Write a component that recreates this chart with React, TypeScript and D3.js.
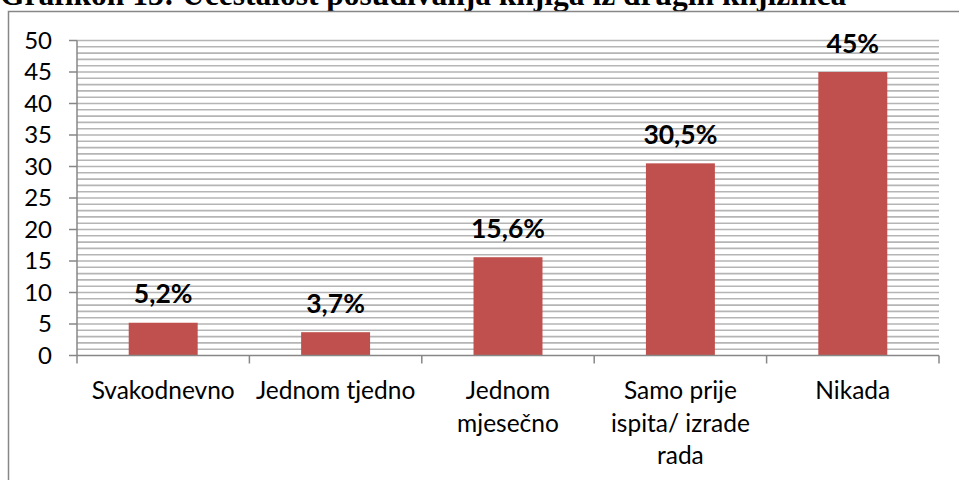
import React from "react";
import * as d3 from "d3";

const title = "Grafikon 13: Učestalost posuđivanja knjiga iz drugih knjižnica";
const categories = ["Svakodnevno", "Jednom tjedno", "Jednom mjesečno", "Samo prije ispita/ izrade rada", "Nikada"];
const categoryLines = [["Svakodnevno"], ["Jednom tjedno"], ["Jednom", "mjesečno"], ["Samo prije", "ispita/ izrade", "rada"], ["Nikada"]];
const values = [5.2, 3.7, 15.6, 30.5, 45];
const valueLabels = ["5,2%", "3,7%", "15,6%", "30,5%", "45%"];
const yTicks = [0, 5, 10, 15, 20, 25, 30, 35, 40, 45, 50];

const W = 959;
const H = 480;
const plot = { left: 77, right: 939, top: 40.5, bottom: 355.5 };
const FONT = "Lato, 'Liberation Sans', sans-serif";

export default function App() {
  const x = d3.scaleBand<string>().domain(categories).range([plot.left, plot.right]).paddingInner(0.6).paddingOuter(0.3);
  const y = d3.scaleLinear().domain([0, 50]).range([plot.bottom, plot.top]);
  const minor = d3.range(1, 51);
  const step = x.step();
  const bounds = d3.range(0, categories.length + 1).map((i) => plot.left + i * step);

  return (
    <svg width={W} height={H} style={{ position: "absolute", left: 0, top: 0, background: "#fff" }}>
      {/* title sits mostly above the visible area, as in the source image */}
      <text x={0} y={4.5} fontFamily="'Liberation Serif', 'Times New Roman', serif" fontWeight="bold" fontSize={31.5} fill="#000">
        {title}
      </text>
      <path d={`M8.5,${H + 2}V11.5H${W + 2}`} fill="none" stroke="#878787" strokeWidth={1.5} />

      {minor.map((v) => (
        <line key={v} x1={plot.left} x2={plot.right} y1={y(v)} y2={y(v)} stroke="#b5b5b5" strokeWidth={1.6} />
      ))}

      {categories.map((c, i) => (
        <rect key={c} x={x(c)} y={y(values[i])} width={x.bandwidth()} height={y(0) - y(values[i])} fill="#c0504d" />
      ))}

      {/* axes */}
      <line x1={plot.left} x2={plot.left} y1={plot.top} y2={plot.bottom} stroke="#878787" strokeWidth={1.5} />
      <line x1={plot.left} x2={plot.right} y1={plot.bottom} y2={plot.bottom} stroke="#878787" strokeWidth={1.5} />
      {yTicks.map((t) => (
        <g key={t}>
          <line x1={plot.left - 8} x2={plot.left} y1={y(t)} y2={y(t)} stroke="#878787" strokeWidth={1.5} />
          <text x={52} y={y(t)} dy="0.35em" textAnchor="end" fontFamily={FONT} fontSize={24} fill="#000">
            {t}
          </text>
        </g>
      ))}
      {bounds.map((b, i) => (
        <line key={i} x1={b} x2={b} y1={plot.bottom} y2={plot.bottom + 8} stroke="#878787" strokeWidth={1.5} />
      ))}

      {categories.map((c, i) => (
        <text key={c} x={x(c)! + x.bandwidth() / 2} textAnchor="middle" fontFamily={FONT} fontSize={24.5} fill="#000">
          {categoryLines[i].map((ln, j) => (
            <tspan key={j} x={x(c)! + x.bandwidth() / 2} y={399 + j * 32.5}>
              {ln}
            </tspan>
          ))}
        </text>
      ))}

      {categories.map((c, i) => (
        <text key={c} x={x(c)! + x.bandwidth() / 2} y={y(values[i]) - 19.5} textAnchor="middle" fontFamily={FONT} fontWeight="bold" fontSize={26.5} fill="#000">
          {valueLabels[i]}
        </text>
      ))}
    </svg>
  );
}
